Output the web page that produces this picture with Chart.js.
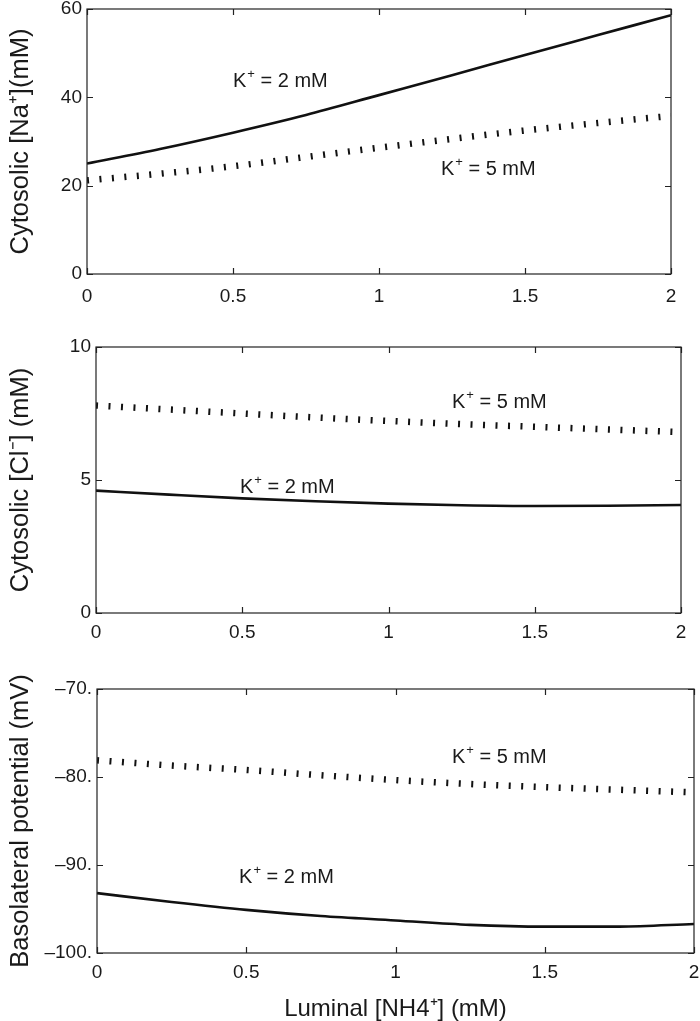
<!DOCTYPE html>
<html>
<head>
<meta charset="utf-8">
<script src="https://cdn.jsdelivr.net/npm/chart.js@4.4.1/dist/chart.umd.min.js"></script>
<style>
  html, body { margin: 0; padding: 0; background: #fff; }
  #wrap { position: relative; width: 700px; height: 1021px; }
  .panel { position: absolute; left: 0; width: 700px; }
</style>
</head>
<body>
<div id="wrap">
  <div class="panel" style="top:0;height:310px"><canvas id="na"></canvas></div>
  <div class="panel" style="top:310px;height:340px"><canvas id="cl"></canvas></div>
  <div class="panel" style="top:650px;height:371px"><canvas id="vb"></canvas></div>
</div>
<script>
// luminal NH4+ (mM), shared x values
const nh4 = [0, 0.25, 0.5, 0.75, 1, 1.25, 1.5, 1.75, 2];

// cytosolic Na+ (mM)
const naK2 = [25.0, 28.3, 32.0, 36.0, 40.5, 45.0, 49.6, 54.1, 58.6];
const naK5 = [21.2, 22.7, 24.4, 26.5, 28.6, 30.6, 32.5, 34.2, 35.8];
// cytosolic Cl- (mM)
const clK2 = [4.60, 4.45, 4.31, 4.20, 4.11, 4.05, 4.02, 4.03, 4.06];
const clK5 = [7.80, 7.65, 7.50, 7.35, 7.22, 7.10, 7.00, 6.90, 6.80];
// basolateral potential (mV)
const vbK2 = [-93.2, -94.2, -95.1, -95.8, -96.3, -96.8, -97.0, -97.0, -96.7];
const vbK5 = [-78.1, -78.7, -79.2, -79.8, -80.35, -80.8, -81.15, -81.45, -81.75];

const xTicks = [0, 0.5, 1, 1.5, 2];
const xTickLabels = ['0', '0.5', '1', '1.5', '2'];
const naTicks = [0, 20, 40, 60];
const naTickLabels = ['0', '20', '40', '60'];
const clTicks = [0, 5, 10];
const clTickLabels = ['0', '5', '10'];
const vbTicks = [-100, -90, -80, -70];
const vbTickLabels = ['\u2013100.', '\u201390.', '\u201380.', '\u201370.'];

const FONT = '"Liberation Sans", Arial, Helvetica, sans-serif';
const INK = '#1a1a1a';
Chart.defaults.font.family = FONT;
Chart.defaults.color = INK;

// MATLAB-like box with inward ticks on all four sides
const frame = {
  id: 'frame',
  afterDatasetsDraw(chart) {
    const { ctx, chartArea: a, scales: { x, y } } = chart;
    const t = 6;
    ctx.save();
    ctx.strokeStyle = '#222';
    ctx.lineWidth = 1.2;
    ctx.strokeRect(a.left, a.top, a.right - a.left, a.bottom - a.top);
    ctx.beginPath();
    for (const tk of x.ticks) {
      const px = Math.round(x.getPixelForValue(tk.value)) + 0.5;
      ctx.moveTo(px, a.bottom); ctx.lineTo(px, a.bottom - t);
      ctx.moveTo(px, a.top); ctx.lineTo(px, a.top + t);
    }
    for (const tk of y.ticks) {
      const py = Math.round(y.getPixelForValue(tk.value)) + 0.5;
      ctx.moveTo(a.left, py); ctx.lineTo(a.left + t, py);
      ctx.moveTo(a.right, py); ctx.lineTo(a.right - t, py);
    }
    ctx.stroke();
    ctx.restore();
  }
};

// "K+ = n mM" labels, placed in data units
const notes = {
  id: 'notes',
  afterDatasetsDraw(chart, args, opts) {
    const { ctx, scales: { x, y } } = chart;
    ctx.save();
    ctx.fillStyle = INK;
    ctx.textBaseline = 'alphabetic';
    for (const n of opts.items || []) {
      let px = x.getPixelForValue(n.x);
      const py = y.getPixelForValue(n.y);
      ctx.font = '20px ' + FONT;
      ctx.fillText('K', px, py);
      px += ctx.measureText('K').width + 1;
      ctx.font = '13px ' + FONT;
      ctx.fillText('+', px, py - 9);
      px += ctx.measureText('+').width;
      ctx.font = '20px ' + FONT;
      ctx.fillText(' = ' + n.k + ' mM', px, py);
    }
    ctx.restore();
  }
};

function makeChart(id, o) {
  const pts = ys => nh4.map((v, i) => ({ x: v, y: ys[i] }));
  const tickFont = { size: 19 };
  return new Chart(document.getElementById(id), {
    type: 'line',
    data: {
      datasets: [
        { data: pts(o.k2), borderColor: '#111', borderWidth: 2.6, pointRadius: 0, cubicInterpolationMode: 'monotone' },
        { data: pts(o.k5), borderColor: '#111', borderWidth: 6.5, borderDash: [2, 10.5], borderCapStyle: 'butt',
          pointRadius: 0, cubicInterpolationMode: 'monotone' }
      ]
    },
    options: {
      responsive: true, maintainAspectRatio: false, animation: false,
      layout: { padding: o.pad },
      plugins: { legend: { display: false }, tooltip: { enabled: false }, notes: { items: o.notes } },
      scales: {
        x: {
          type: 'linear', min: 0, max: 2,
          afterBuildTicks: s => { s.ticks = xTicks.map(v => ({ value: v })); },
          afterFit: s => { s.height = o.xh; s.paddingLeft = 0; s.paddingRight = 0; },
          grid: { display: false, drawTicks: false }, border: { display: false },
          ticks: { font: tickFont, padding: o.xpad, maxRotation: 0, autoSkip: false,
                   callback: v => xTickLabels[xTicks.indexOf(v)] },
          title: o.xTitle ? { display: true, text: o.xTitle, font: { size: 24 }, padding: { top: 0, bottom: -3 } } : { display: false }
        },
        y: {
          type: 'linear', min: o.yTicks[0], max: o.yTicks[o.yTicks.length - 1],
          afterBuildTicks: s => { s.ticks = o.yTicks.map(v => ({ value: v })); },
          afterFit: s => { s.width = o.yw; s.paddingTop = 0; s.paddingBottom = 0; },
          grid: { display: false, drawTicks: false }, border: { display: false },
          ticks: { font: tickFont, padding: 5, autoSkip: false,
                   callback: v => o.yLabels[o.yTicks.indexOf(v)] },
          title: { display: true, text: o.yTitle, font: { size: 25.5 }, padding: { top: 6, bottom: 0 } }
        }
      }
    },
    plugins: [frame, notes]
  });
}

makeChart('na', {
  k2: naK2, k5: naK5, yTicks: naTicks, yLabels: naTickLabels,
  yTitle: 'Cytosolic [Na\u207A](mM)',
  pad: { top: 9, right: 29, left: 0, bottom: 6 }, yw: 87, xh: 30, xpad: 11,
  notes: [{ x: 0.5, y: 42.3, k: 2 }, { x: 1.212, y: 22.4, k: 5 }]
});

makeChart('cl', {
  k2: clK2, k5: clK5, yTicks: clTicks, yLabels: clTickLabels,
  yTitle: 'Cytosolic [Cl\u207B] (mM)',
  pad: { top: 37, right: 19, left: 0, bottom: 7 }, yw: 96, xh: 30, xpad: 8,
  notes: [{ x: 0.492, y: 4.52, k: 2 }, { x: 1.217, y: 7.7, k: 5 }]
});

makeChart('vb', {
  k2: vbK2, k5: vbK5, yTicks: vbTicks, yLabels: vbTickLabels,
  yTitle: 'Basolateral potential (mV)', xTitle: 'Luminal [NH4\u207A] (mM)',
  pad: { top: 39, right: 6, left: 0, bottom: 0 }, yw: 97, xh: 68, xpad: 8,
  notes: [{ x: 0.476, y: -92.1, k: 2 }, { x: 1.189, y: -78.4, k: 5 }]
});
</script>
</body>
</html>
